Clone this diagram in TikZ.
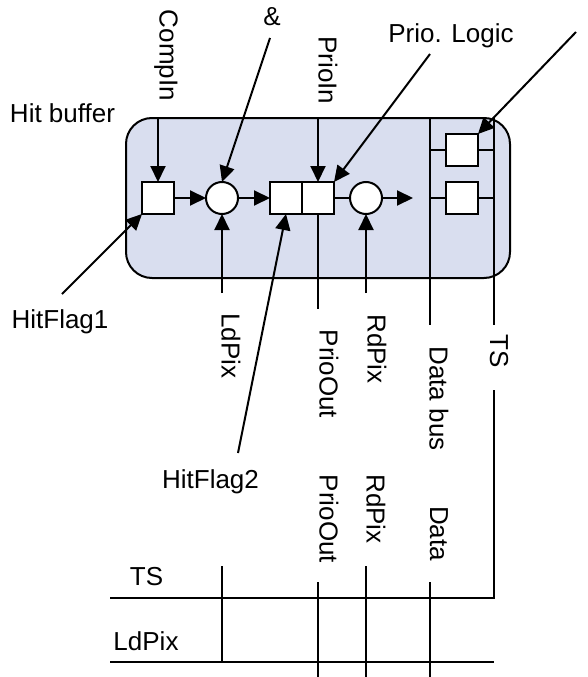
\documentclass[tikz,border=0pt]{standalone}
\usepackage{fontspec}
\setmainfont{Liberation Sans}
\usetikzlibrary{arrows.meta}
\definecolor{panel}{HTML}{D9DEEF}
\tikzset{
  wire/.style={line width=2pt,line cap=butt},
  arr/.style={wire,-{Triangle[length=16pt,width=15pt]}},
  cell/.style={draw,fill=white,line width=2pt,minimum size=32pt,inner sep=0pt,outer sep=0pt},
  gate/.style={draw,fill=white,circle,line width=2pt,minimum size=32pt,inner sep=0pt,outer sep=0pt},
  lab/.style={font=\fontsize{26}{30}\selectfont,inner sep=0pt},
  vlab/.style={lab,rotate=-90}
}
\begin{document}
\begin{tikzpicture}[x=1pt,y=-1pt]
\useasboundingbox (0,0) rectangle (587,677);
\draw[wire,fill=panel,rounded corners=26pt] (126,118) rectangle (510,278);
% free ends
\coordinate (topA) at (158,118);
\coordinate (topB) at (318,118);
\coordinate (topD) at (430,118);
\coordinate (topT) at (494,118);
\coordinate (ampS) at (270,38);
\coordinate (prioS) at (430,54);
\coordinate (tsS) at (576,32);
\coordinate (hf1S) at (62,294);
\coordinate (hf2S) at (238,453);
\coordinate (ldS) at (222,293);
\coordinate (rdS) at (366,293);
\coordinate (poE) at (318,309);
\coordinate (dbE) at (430,325);
\coordinate (tsE) at (494,325);
\coordinate (tsB) at (494,390);
\coordinate (tsC) at (494,597.5);
\coordinate (busL1) at (110,597.5);
\coordinate (busL2) at (110,661.5);
\coordinate (busR2) at (494,661.5);
\coordinate (outE) at (413,198);
\coordinate (v1a) at (222,566);
\coordinate (v1b) at (222,661.5);
\coordinate (v2a) at (318,582);
\coordinate (v2b) at (318,677);
\coordinate (v3a) at (366,566);
\coordinate (v3b) at (366,677);
\coordinate (v4a) at (430,582);
\coordinate (v4b) at (430,677);
% wires under cells
\draw[wire] (topD) -- (dbE);
\draw[wire] (topT) -- (tsE);
\draw[wire] (tsB) -- (tsC) -- (busL1);
\draw[wire] (busL2) -- (busR2);
\draw[wire] (v1a) -- (v1b);
\draw[wire] (v2a) -- (v2b);
\draw[wire] (v3a) -- (v3b);
\draw[wire] (v4a) -- (v4b);
\draw[wire] (430,150) coordinate (r1l) -- (494,150) coordinate (r1r);
\draw[wire] (430,198) coordinate (r2l) -- (494,198) coordinate (r2r);
% cells
\node[cell] (c1) at (158,198) {};
\node[gate] (g1) at (222,198) {};
\node[cell] (c2) at (286,198) {};
\node[cell] (c3) at (318,198) {};
\node[gate] (g2) at (366,198) {};
\node[cell] (c4) at (462,150) {};
\node[cell] (c5) at (462,198) {};
% connectors
\draw[arr] (topA) -- (c1.north);
\draw[arr] (c1) -- (g1);
\draw[arr] (g1) -- (c2);
\draw[arr] (topB) -- (c3.north);
\draw[wire] (c3) -- (g2);
\draw[arr] (g2) -- (outE);
\draw[wire] (c3.south) -- (poE);
\draw[arr] (ldS) -- (g1.south);
\draw[arr] (rdS) -- (g2.south);
\draw[arr] (ampS) -- (g1.north);
\draw[arr] (prioS) -- (c3.north east);
\draw[arr] (tsS) -- (c4.north east);
\draw[arr] (hf1S) -- (c1.south west);
\draw[arr] (hf2S) -- (c2.south);
% labels
\node[lab] (lHit) at (62.5,113) {Hit buffer};
\node[lab] (lAmp) at (272,17) {\&};
\node[lab] (lPrio) at (451,36) {Prio. Logic};
\node[lab] (lHF1) at (60,322) {HitFlag1};
\node[lab] (lHF2) at (210.5,482) {HitFlag2};
\node[lab] (lTS) at (146.5,577) {TS};
\node[lab] (lLd) at (146,641) {LdPix};
\node[vlab] (vComp) at (166,55.5) {CompIn};
\node[vlab] (vPI) at (328,70.5) {PrioIn};
\node[vlab] (vLd) at (231,346) {LdPix};
\node[vlab] (vPO) at (329,374) {PrioOut};
\node[vlab] (vRd) at (377,349) {RdPix};
\node[vlab] (vDb) at (439,398.5) {Data bus};
\node[vlab] (vTS) at (499,351) {TS};
\node[vlab] (vPO2) at (329,519) {PrioOut};
\node[vlab] (vRd2) at (376,509) {RdPix};
\node[vlab] (vDa) at (439,533.5) {Data};
\end{tikzpicture}
\end{document}
